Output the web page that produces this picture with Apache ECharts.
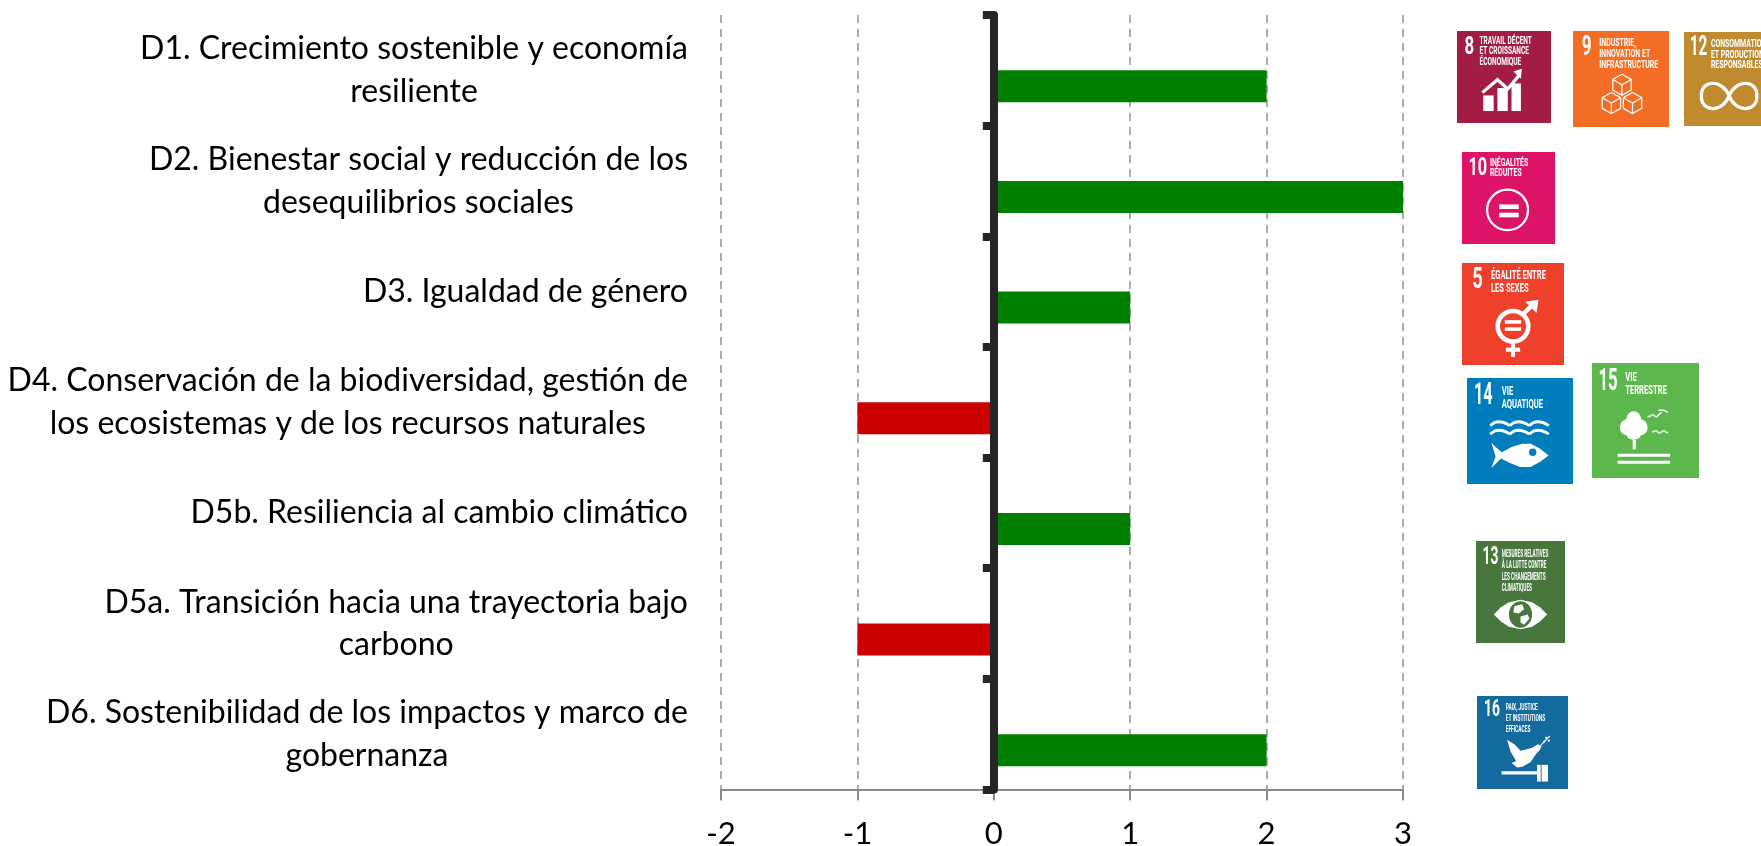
<!DOCTYPE html>
<html><head><meta charset="utf-8">
<style>html,body{margin:0;padding:0;background:#fff}#c{width:1761px;height:846px}</style>
<script src="https://cdn.jsdelivr.net/npm/echarts@6/dist/echarts.min.js"></script>
</head><body><div id="c"></div>
<script>
const categories = [
  "D1. Crecimiento sostenible y economía\nresiliente",
  "D2. Bienestar social y reducción de los\ndesequilibrios sociales",
  "D3. Igualdad de género",
  "D4. Conservación de la biodiversidad, gestión de\nlos ecosistemas y de los recursos naturales",
  "D5b. Resiliencia al cambio climático",
  "D5a. Transición hacia una trayectoria bajo\ncarbono",
  "D6. Sostenibilidad de los impactos y marco de\ngobernanza"
];
const scores = [2, 3, 1, -1, 1, -1, 2];
const blankSeries = [null, null, null, null, null, null, null];
const xTicks = [-2, -1, 0, 1, 2, 3];

const W = '#fff';
function txt(x, y, text, size, sx, weight) {
  return {type:'text', x, y, scaleX: sx, style:{text, fill:W, font:(weight||'bold')+' '+size+'px Roboto', textVerticalAlign:'top'}};
}
function line(pts, lw) { return {type:'polyline', shape:{points:pts}, style:{stroke:W, fill:null, lineWidth:lw||2}}; }
function poly(pts, fill) { return {type:'polygon', shape:{points:pts}, style:{fill:fill||W}}; }
function box(x,y,w,h){ return {type:'rect', shape:{x,y,width:w,height:h}, style:{fill:W}}; }
function circ(cx,cy,r,fill){ return {type:'circle', shape:{cx,cy,r}, style:{fill:fill||W}}; }
function ringS(cx,cy,r,lw){ return {type:'circle', shape:{cx,cy,r}, style:{fill:null,stroke:W,lineWidth:lw}}; }
function bez(a,c1,c2,b,lw){ return {type:'bezierCurve', shape:{x1:a[0],y1:a[1],cpx1:c1[0],cpy1:c1[1],cpx2:c2[0],cpy2:c2[1],x2:b[0],y2:b[1]}, style:{stroke:W,fill:null,lineWidth:lw}}; }
function cube(cx,cy,s,col){
  const h=s*0.87, v=s*0.5;
  return [
    poly([[cx,cy-s],[cx+h,cy-v],[cx+h,cy+v],[cx,cy+s],[cx-h,cy+v],[cx-h,cy-v]],col),
    line([[cx,cy-s],[cx+h,cy-v],[cx+h,cy+v],[cx,cy+s],[cx-h,cy+v],[cx-h,cy-v],[cx,cy-s]],1.3),
    line([[cx-h,cy-v],[cx,cy],[cx+h,cy-v]],1.3),
    line([[cx,cy],[cx,cy+s]],1.3)
  ];
}
function wave(y){
  const out=[]; for(let i=0;i<3;i++){ const x=22+i*18.4;
    out.push(bez([x,y],[x+5,y-5],[x+11,y-5],[x+18.4,y],2.6)); }
  return out;
}

const badges = [
  {x:1457,y:31,w:94,h:92,c:'#A31C44',n:'8',nx:8,ns:29,nsx:.62,tx:24,lines:['TRAVAIL DÉCENT','ET CROISSANCE','ÉCONOMIQUE'],fs:12,ly:11.4,ty:5,ts:.58,icon:[
    box(28,70,11,17),box(43,62,11,25),box(58,57,10,30),
    line([[27,67],[43,53],[54,63],[67,47]],3.5),poly([[60,44],[69,41],[68,52]])]},
  {x:1573,y:31,w:96,h:96,c:'#F36D25',n:'9',nx:9,ns:29,nsx:.62,tx:27.4,lines:['INDUSTRIE,','INNOVATION ET','INFRASTRUCTURE'],fs:12,ly:11.4,ty:7,ts:.6,
    icon:[...cube(51,56,11,'#F36D25'),...cube(40,75,11,'#F36D25'),...cube(62,75,11,'#F36D25')]},
  {x:1684,y:32,w:96,h:94,c:'#BF8B2E',n:'12',nx:6,ns:29,nsx:.55,tx:28,lines:['CONSOMMATION','ET PRODUCTION','RESPONSABLES'],fs:12,ly:11.4,ty:7,ts:.6,icon:[
    bez([47,68],[40,50],[18,50],[18,68],3.4),bez([18,68],[18,86],[40,86],[47,68],3.4),
    bez([47,68],[54,50],[76,50],[76,68],3.4),bez([76,68],[76,86],[54,86],[47,68],3.4)]},
  {x:1462,y:152,w:93,h:92,c:'#DD1367',n:'10',nx:7,ns:29,nsx:.6,tx:30,lines:['INÉGALITÉS','RÉDUITES'],fs:12,ly:11.6,ty:6,ts:.62,icon:[
    ringS(49,63,22,2.4),box(40,57,21,5),box(40,66,21,5)]},
  {x:1462,y:263,w:102,h:102,c:'#EF402B',n:'5',nx:10,ns:29,nsx:.62,tx:28.4,lines:['ÉGALITÉ ENTRE','LES SEXES'],fs:12,ly:12,ty:7,ts:.62,icon:[
    ringS(50,62,15,4.5),box(42,56,16,3.5),box(42,63,16,3.5),
    line([[60,50],[72,38]],4.5),poly([[62,38],[75,36],[73,49]]),
    box(48,76,4,16),box(43,83,14,4)]},
  {x:1467,y:378,w:106,h:106,c:'#007DBC',n:'14',nx:6.6,ns:29,nsx:.53,tx:32.7,lines:['VIE','AQUATIQUE'],fs:12,ly:12,ty:7,ts:.6,icon:[
    ...wave(45),...wave(53),
    poly([[23,61],[28,66],[33,70],[42,65],[52,62],[60,62],[68,66],[77,73],[69,79],[60,84],[50,84],[40,80],[32,76],[28,80],[23,85],[27,74]]),
    circ(62,70,3.5,'#007DBC')]},
  {x:1592,y:363,w:107,h:115,c:'#5CB84D',n:'15',nx:6,ns:27,nsx:.58,tx:31,lines:['VIE','TERRESTRE'],fs:11,ly:11.6,ty:7,ts:.65,icon:[
    circ(39,49,7),circ(33,56,7),circ(45,56,7),circ(39,59,8),box(38,67,3,8),
    box(24,79,49,2.6),box(24,85,49,2.6),
    line([[52,47],[57,45],[60,47],[65,43]],1.3),line([[62,41],[67,41],[71,43]],1.3),line([[56,60],[60,59],[63,61],[67,59],[71,61]],1.3)]},
  {x:1476,y:541,w:89,h:102,c:'#48773E',n:'13',nx:7.4,ns:26,nsx:.6,tx:29,lines:['MESURES RELATIVES','À LA LUTTE CONTRE','LES CHANGEMENTS','CLIMATIQUES'],fs:11,ly:11.4,ty:7,ts:.48,icon:[
    poly([[20,72],[28,65],[37,60],[50,57.5],[63,60],[72,65],[80,72],[72,79],[63,84],[50,86.5],[37,84],[28,79]]),
    circ(50,72,13,'#48773E'),
    poly([[43,64],[52,62],[54,67],[48,71],[42,70]]),poly([[50,74],[58,72],[60,76],[54,82],[50,80]])]},
  {x:1477,y:696,w:91,h:93,c:'#136A9F',n:'16',nx:7.7,ns:25,nsx:.61,tx:31.5,lines:['PAIX, JUSTICE','ET INSTITUTIONS','EFFICACES'],fs:10.5,ly:11.9,ty:7,ts:.507,icon:[
    poly([[33,47],[41,52],[48,59],[60,56],[67,52],[71,54],[69,58],[65,62],[59,71],[50,76],[44,77],[38,72],[43,70],[37,60]]),
    line([[70,53],[80,43]],1.2),circ(76,45,1.2),circ(79,48,1.2),circ(74,49,1.2),
    box(27,81,40,3.5),box(66,74,4,18),box(71,74,7,18)]}
];
const badgeGraphics = badges.map(b => {
  const children = [
    {type:'rect', shape:{x:0,y:0,width:100,height:100}, style:{fill:b.c}},
    txt(b.nx, 3, b.n, b.ns, b.nsx),
    ...b.lines.map((l,i)=>txt(b.tx, b.ty+i*b.ly, l, b.fs, b.ts)),
    ...b.icon
  ];
  return {type:'group', x:b.x, y:b.y, scaleX:b.w/100, scaleY:b.h/100, silent:true, children};
});

const LABEL_FONT = 'Lato';
const chart = echarts.init(document.getElementById('c'), null, {renderer:'canvas'});
chart.setOption({
  animation:false,
  backgroundColor:'#fff',
  grid:{left:721, top:15, width:682, height:774.5, containLabel:false, outerBoundsMode:'none'},
  xAxis:{
    type:'value', min:xTicks[0], max:xTicks[xTicks.length-1], interval:1, position:'bottom',
    axisLine:{show:true, onZero:false, lineStyle:{color:'#8a8a8a', width:2}},
    axisTick:{show:true, inside:false, length:11, lineStyle:{color:'#8a8a8a', width:2}},
    axisLabel:{color:'#000', fontFamily:LABEL_FONT, fontSize:31, margin:29, showMinLabel:true, showMaxLabel:true},
    splitLine:{show:true, lineStyle:{color:'#adadad', width:2, type:[8,6]}}
  },
  yAxis:[
    {type:'category', data:categories, inverse:true, position:'left',
     axisLine:{show:false, onZero:false}, axisTick:{show:false}, splitLine:{show:false},
     axisLabel:{interval:0, margin:33, align:'right', verticalAlign:'middle',
       formatter:v=>v.split('\n').map(s=>'{c|'+s+'}').join('\n'),
       rich:{c:{align:'center', color:'#000', fontFamily:LABEL_FONT, fontSize:32, lineHeight:42.5}}}},
    {type:'category', data:categories, inverse:true, position:'left', z:5,
     axisLine:{show:true, onZero:true, lineStyle:{color:'#262626', width:8}},
     axisTick:{show:true, alignWithLabel:false, interval:0, length:11, lineStyle:{color:'#262626', width:8}},
     axisLabel:{show:false}, splitLine:{show:false}}
  ],
  series:[
    {type:'bar', name:'blank', yAxisIndex:0, data:blankSeries, barWidth:32, barGap:'0%', silent:true},
    {type:'bar', name:'score', yAxisIndex:0, data:scores, barWidth:32, barGap:'0%', silent:true,
     itemStyle:{color:p=>p.value>=0?'#008000':'#CC0000'}}
  ],
  graphic:badgeGraphics
});
</script></body></html>
